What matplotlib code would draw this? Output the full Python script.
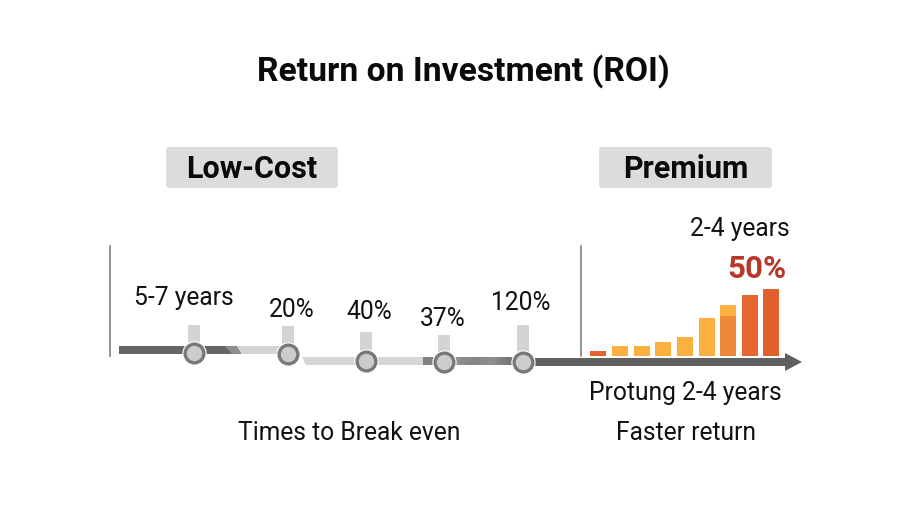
import matplotlib
matplotlib.use("Agg")
import matplotlib.pyplot as plt
from matplotlib.patches import Rectangle, FancyBboxPatch, Polygon

plt.rcParams['font.family'] = ['Roboto', 'DejaVu Sans']

# milestones on the low-cost side
low_labels = ["5-7 years", "20%", "40%", "37%", "120%"]
low_x = [194, 288, 366, 444, 523]
low_y = [353, 354, 361, 362, 362]
stem_top = [325, 326, 332, 335, 325]
label_x = [184, 292, 369, 443, 521]
label_y = [298, 310, 312, 319, 303]

# premium side bars, height above the axis
bar_x = [598, 620, 642, 663, 685, 707, 728, 750, 771]
bar_main = [5, 10, 10, 14, 19, 38, 40, 61, 67]
bar_top = [0, 0, 0, 0, 0, 0, 11, 0, 0]
bar_colors = ["#E2622F", "#FBB040", "#FBB040", "#FBB040", "#FBB040", "#FBB040",
              "#F0883A", "#E5672F", "#E2602C"]

fig = plt.figure(figsize=(9.19, 5.21), dpi=100)
ax = fig.add_axes([0, 0, 1, 1])
ax.set_xlim(0, 919)
ax.set_ylim(521, 0)
ax.axis("off")

ax.text(463, 71, "Return on Investment (ROI)", fontsize=24.2, fontweight="bold",
        ha="center", va="center", color="#0a0a0a")

# the two headers
for x0, x1, txt in [(166, 338, "Low-Cost"), (599, 772, "Premium")]:
    ax.add_patch(FancyBboxPatch((x0 + 4, 151), x1 - x0 - 8, 33, boxstyle="round,pad=4",
                                fc="#DCDCDC", ec="none"))
    ax.text((x0 + x1) / 2, 169, txt, fontsize=22, fontweight="bold", ha="center",
            va="center", color="#0a0a0a")

# vertical separators
ax.plot([110, 110], [246, 356], color="#808080", lw=1.2)
ax.plot([580.5, 580.5], [246, 356], color="#808080", lw=1.2)

# broken timeline
ax.add_patch(Rectangle((119, 346), 113, 8, fc="#666666", ec="none"))
ax.add_patch(Polygon([[225, 346], [237, 346], [242, 354], [232, 354]], fc="#8E8E8E", ec="none"))
ax.add_patch(Polygon([[237, 346], [288, 346], [288, 354], [242, 354]], fc="#D4D4D4", ec="none"))
ax.add_patch(Polygon([[302, 357], [425, 357], [425, 365], [306, 365]], fc="#D6D6D6", ec="none"))
ax.add_patch(Rectangle((423, 357), 20, 8, fc="#808080", ec="none"))
ax.imshow([[0.58, 0.52, 0.56, 0.46]], cmap="gray", vmin=0, vmax=1, aspect="auto",
          extent=(444, 520, 365, 357), interpolation="bilinear", zorder=1)
ax.set_xlim(0, 919)
ax.set_ylim(521, 0)
ax.add_patch(Rectangle((520, 358), 266, 8, fc="#606060", ec="none"))
ax.add_patch(Polygon([[785, 353], [802, 362], [785, 371]], fc="#606060", ec="none"))

for x, y, top in zip(low_x, low_y, stem_top):
    ax.add_patch(Rectangle((x - 6, top), 12, y - top, fc="#D4D4D4", ec="none", zorder=2))
    ax.plot(x, y, "o", ms=17.5, mfc="white", mec="none", zorder=3)
    ax.plot(x, y, "o", ms=13.5, mfc="#CCCCCC", mec="#787878", mew=2.4, zorder=4)

for txt, x, y in zip(low_labels, label_x, label_y):
    ax.text(x, y, txt, fontsize=17.7, ha="center", va="center", color="#111111")

# bars
for x, h, t, c in zip(bar_x, bar_main, bar_top, bar_colors):
    ax.bar(x, -h, width=15.5, bottom=356, color=c, zorder=3)
    if t:
        ax.bar(x, -t, width=15.5, bottom=356 - h, color="#FBB040", zorder=3)

ax.text(740, 229, "2-4 years", fontsize=17.7, ha="center", va="center", color="#111111")
ax.text(757, 269, "50%", fontsize=22.5, fontweight="bold", ha="center", va="center", color="#B8372B")
ax.text(685, 393, "Protung 2-4 years", fontsize=17.7, ha="center", va="center", color="#111111")
ax.text(686, 433, "Faster return", fontsize=17.7, ha="center", va="center", color="#111111")
ax.text(349, 433, "Times to Break even", fontsize=17.7, ha="center", va="center", color="#111111")

fig.savefig("out.png", dpi=100)
